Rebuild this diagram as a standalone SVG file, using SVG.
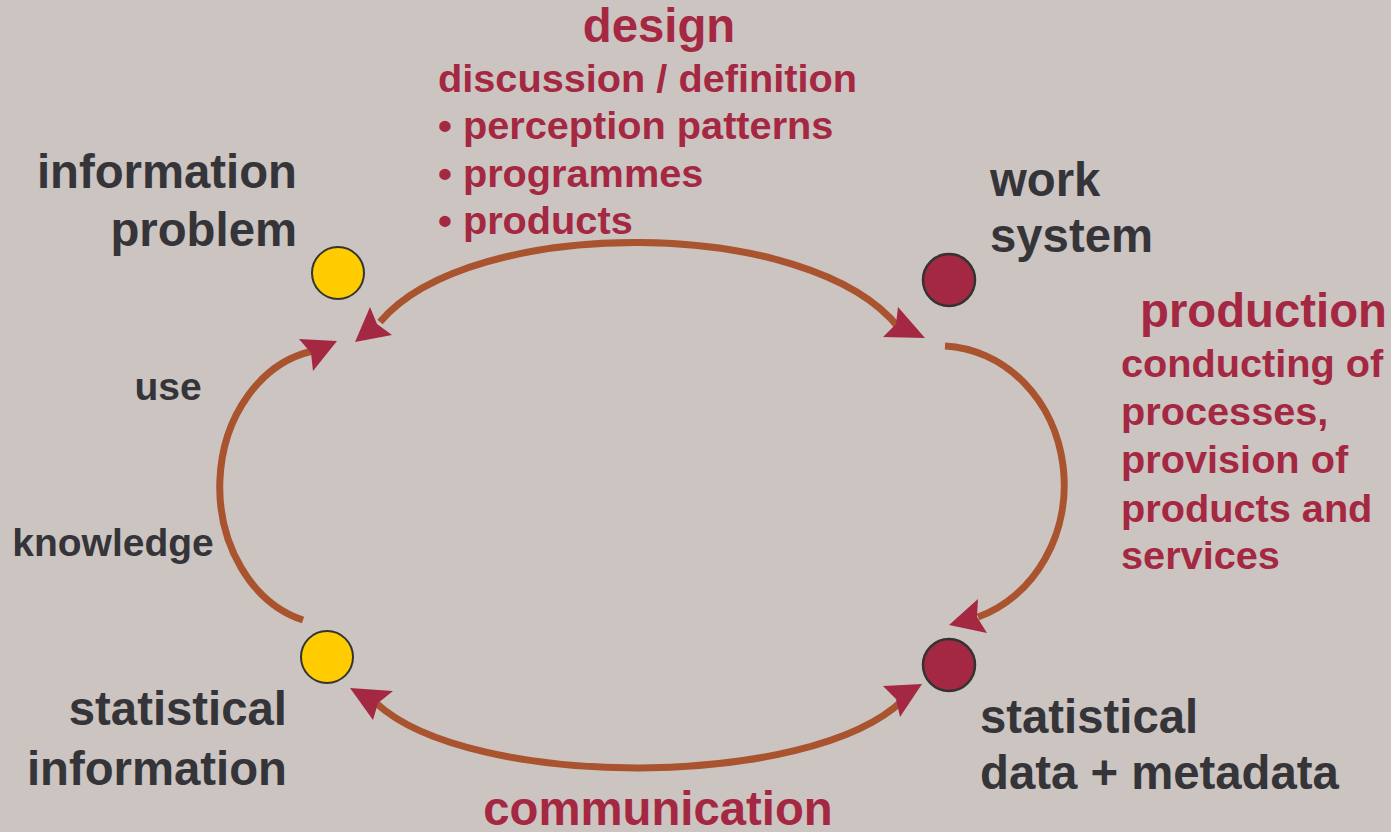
<svg xmlns="http://www.w3.org/2000/svg" width="1391" height="832" viewBox="0 0 1391 832">
<style>
text{font-family:"Liberation Sans",Arial,sans-serif;font-weight:bold}
.dk{fill:#353539}
.rd{fill:#A52843}
.big{font-size:47.3px}
.mid{font-size:39.7px}
.sm{font-size:39px}
.arc{fill:none;stroke:#A9542F;stroke-width:7}
.ah{fill:#A52843}
.yel{fill:#FFCC00;stroke:#333;stroke-width:2}
.red{fill:#A52843;stroke:#333;stroke-width:2.5}
</style>
<rect width="1391" height="832" fill="#CBC4C1"/>
<g id="connectors">
<path class="arc" d="M380,322 C470,215 810,215 899,328"/>
<polygon class="ah" points="355,342 370,307 377,324 392,335"/>
<polygon class="ah" points="925,338 898,307 896,324 883,337"/>
<path class="arc" d="M945,346 A125,139 0 0 1 978,617"/>
<polygon class="ah" points="949,625 978,599 977,617 987,633"/>
<path class="arc" d="M376,703 C470,790 810,790 903,700"/>
<polygon class="ah" points="922,684 883,686 896,699 900,717"/>
<polygon class="ah" points="350,688 393,691 378,703 373,720"/>
<path class="arc" d="M303,620 A113,138 0 0 1 313,351"/>
<polygon class="ah" points="337,341 299,339 311,353 313,371"/>
</g>
<g id="information-problem">
<circle class="yel" cx="338" cy="273" r="26"/>
<text class="dk big" x="297" y="188" text-anchor="end">information</text>
<text class="dk big" x="297" y="246" text-anchor="end">problem</text>
</g>
<g id="work-system">
<circle class="red" cx="949" cy="280" r="26"/>
<text class="dk big" x="990" y="196">work</text>
<text class="dk big" x="990" y="252">system</text>
</g>
<g id="statistical-data">
<circle class="red" cx="949" cy="665" r="26"/>
<text class="dk big" x="980" y="733">statistical</text>
<text class="dk big" x="980" y="789">data + metadata</text>
</g>
<g id="statistical-information">
<circle class="yel" cx="327" cy="657" r="26"/>
<text class="dk big" x="287" y="725" text-anchor="end">statistical</text>
<text class="dk big" x="287" y="785" text-anchor="end">information</text>
</g>
<g id="design">
<text class="rd big" x="659" y="42" text-anchor="middle">design</text>
<text class="rd mid" x="438" y="92">discussion / definition</text>
<text class="rd mid" x="438" y="139">• perception patterns</text>
<text class="rd mid" x="438" y="187">• programmes</text>
<text class="rd mid" x="438" y="234">• products</text>
</g>
<g id="production">
<text class="rd big" x="1140" y="327">production</text>
<text class="rd mid" x="1121" y="377">conducting of</text>
<text class="rd mid" x="1121" y="425">processes,</text>
<text class="rd mid" x="1121" y="473">provision of</text>
<text class="rd mid" x="1121" y="522">products and</text>
<text class="rd mid" x="1121" y="569">services</text>
</g>
<g id="use">
<text class="dk sm" x="168" y="400" text-anchor="middle">use</text>
<text class="dk sm" x="113" y="556" text-anchor="middle">knowledge</text>
</g>
<g id="communication">
<text class="rd big" x="658" y="825" text-anchor="middle">communication</text>
</g>
</svg>
